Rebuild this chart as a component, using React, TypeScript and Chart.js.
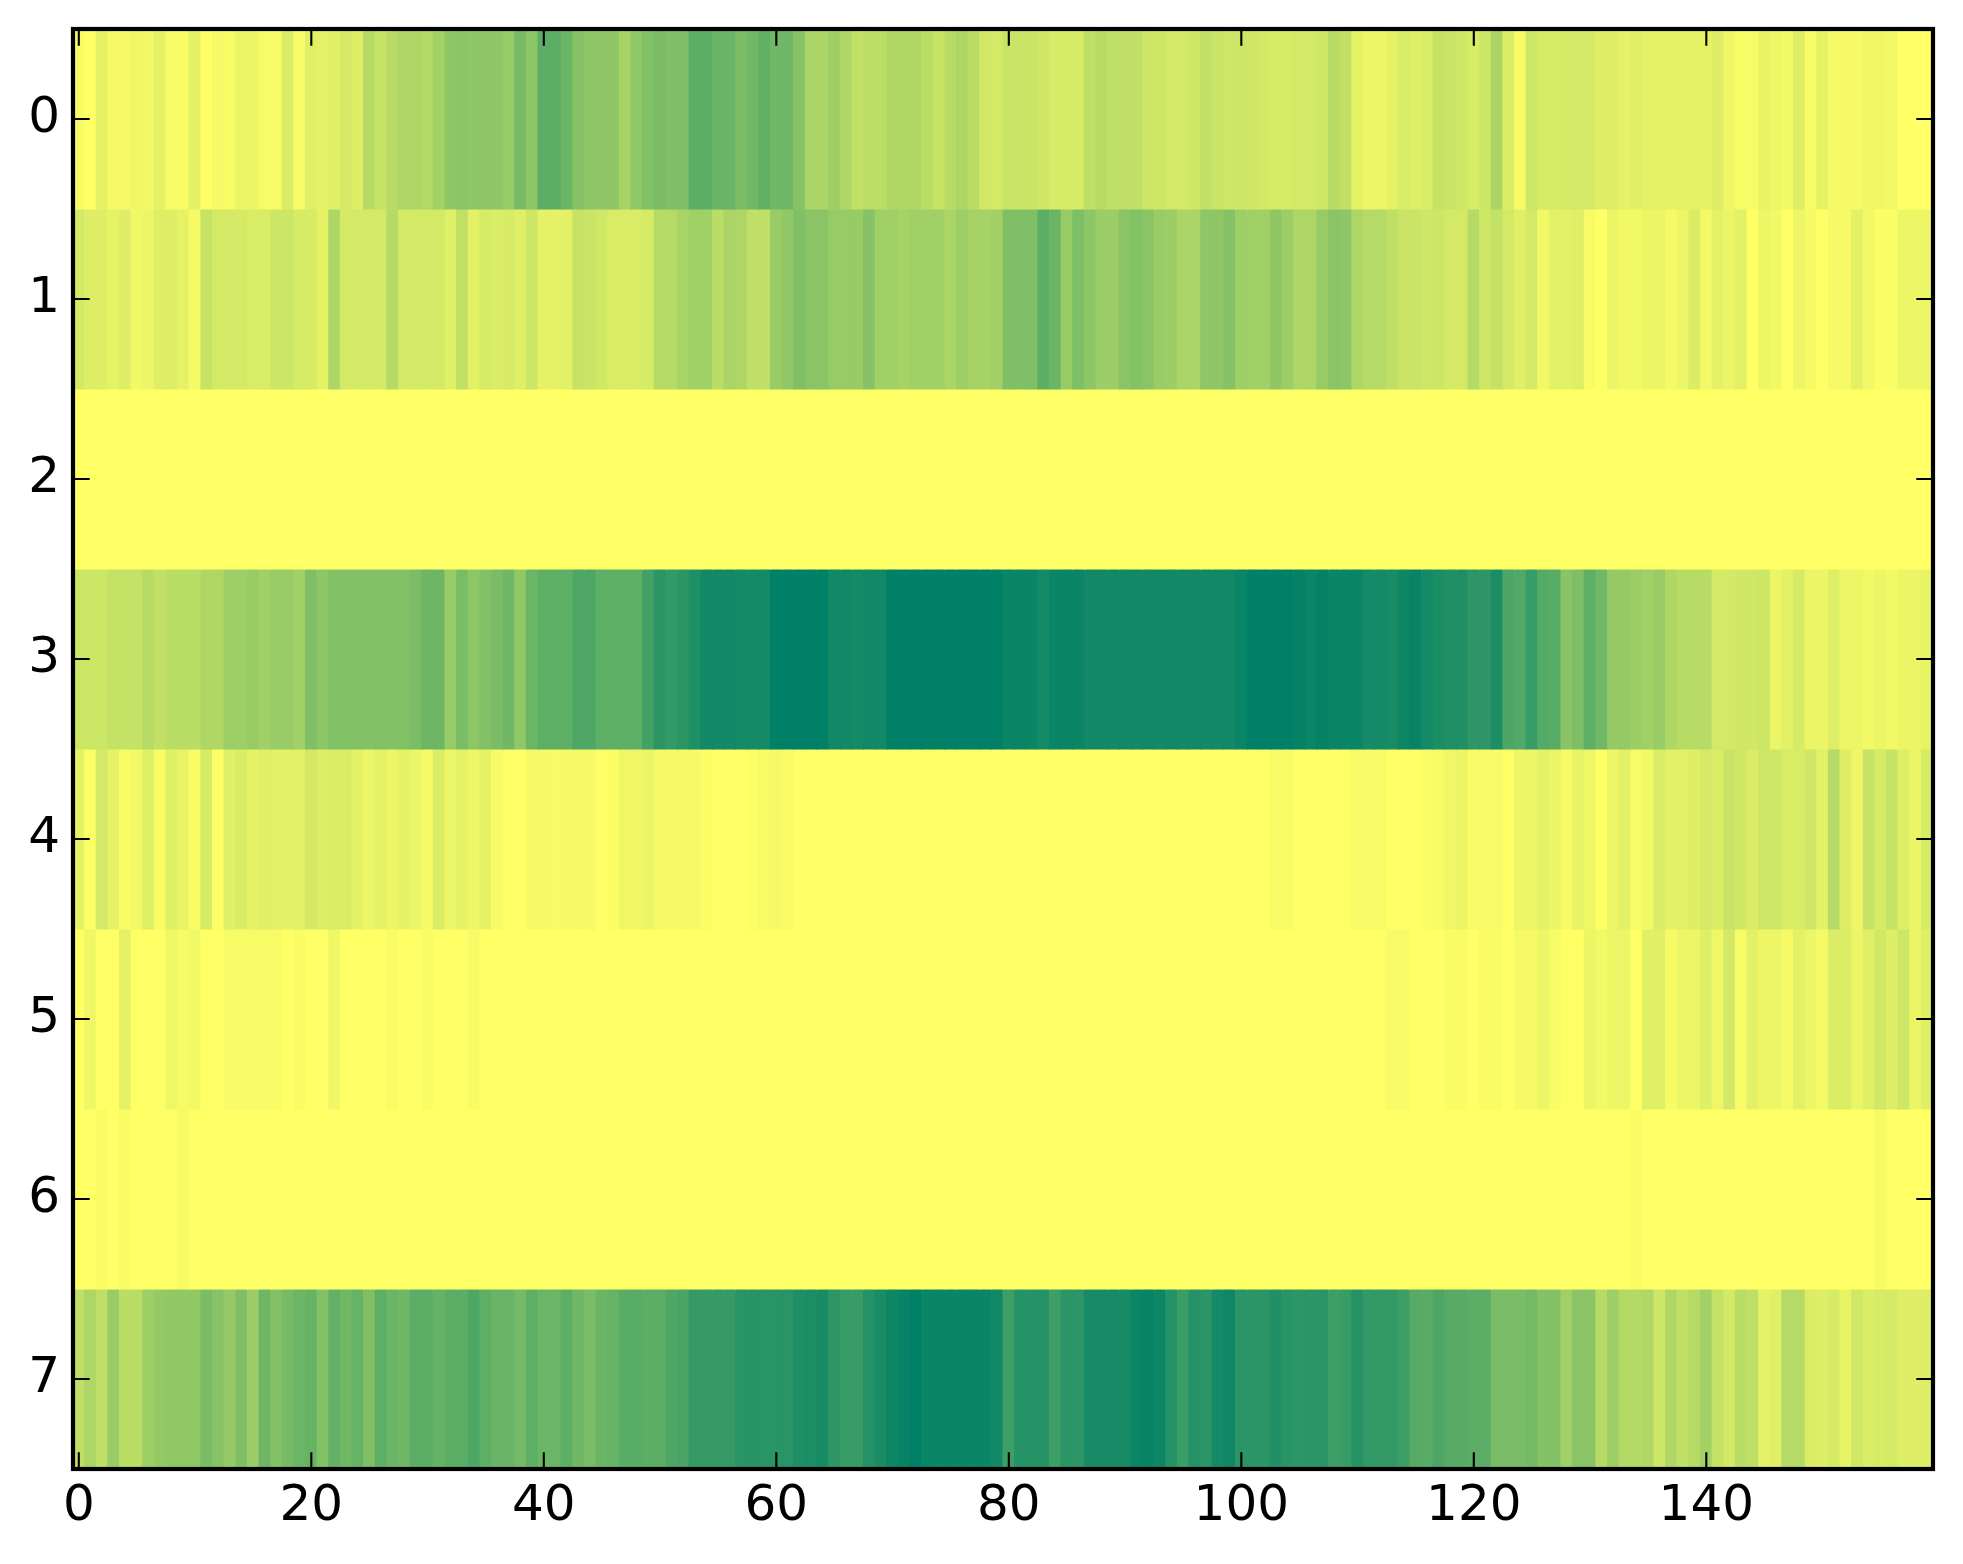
import React, { useEffect, useRef } from "react";
import { Chart, registerables } from "chart.js";

Chart.register(...registerables);

// Intensity (0-100) per column.
const row0 = [
  3,0,10,4,4,6,5,10,3,3, 11,0,4,3,8,8,3,3,14,3, 12,10,12,17,13,29,22,28,32,32, 30,36,44,46,44,44,44,41,53,45,
  64,64,58,47,44,44,44,35,43,49, 52,50,50,64,64,59,59,52,56,62, 56,56,47,33,33,38,31,24,26,27, 31,31,31,27,22,28,32,27,18,17,
  21,21,21,18,16,16,16,25,28,25, 25,25,20,19,17,17,19,24,21,19, 20,18,17,16,16,17,17,19,28,24, 10,7,7,10,15,13,15,22,21,19,
  16,20,33,14,3,19,16,16,17,17, 17,13,13,10,12,10,10,10,10,10, 10,13,6,3,3,9,7,5,13,3, 10,4,4,4,6,6,5,0,0,0,
];
const row1 = [
  17,13,13,10,13,5,7,13,13,10, 4,22,17,17,17,15,15,20,20,16, 16,10,32,17,17,17,17,29,17,17, 17,17,12,24,11,16,14,16,12,20,
  10,10,11,22,21,18,15,15,15,16, 29,29,34,37,37,27,33,32,25,25, 40,43,50,46,46,41,41,41,47,37, 37,35,37,37,37,33,38,35,35,37,
  50,50,50,64,58,41,51,45,39,39, 46,49,46,40,39,33,33,44,44,48, 38,37,37,44,39,32,32,41,46,45, 32,29,29,25,21,21,19,20,17,17,
  29,19,23,17,12,17,5,11,11,13, 3,0,8,5,5,8,8,4,7,14, 5,10,8,11,0,7,5,0,7,4, 0,4,4,11,5,1,1,7,7,7,
];
const row2 = [
  0,0,0,0,0,0,0,0,0,0, 0,0,0,0,0,0,0,0,0,0, 0,0,0,0,0,0,0,0,0,0, 0,0,0,0,0,0,0,0,0,0,
  0,0,0,0,0,0,0,0,0,0, 0,0,0,0,0,0,0,0,0,0, 0,0,0,0,0,0,0,0,0,0, 0,0,0,0,0,0,0,0,0,0,
  0,0,0,0,0,0,0,0,0,0, 0,0,0,0,0,0,0,0,0,0, 0,0,0,0,0,0,0,0,0,0, 0,0,0,0,0,0,0,0,0,0,
  0,0,0,0,0,0,0,0,0,0, 0,0,0,0,0,0,0,0,0,0, 0,0,0,0,0,0,0,0,0,0, 0,0,0,0,0,0,0,0,0,0,
];
const row3 = [
  20,20,20,23,23,23,28,24,27,27, 27,31,31,38,38,41,37,40,40,37, 50,45,49,49,49,49,49,49,49,52, 57,57,41,52,45,49,52,56,43,58,
  63,63,63,69,69,63,63,63,63,74, 83,80,83,88,93,93,93,92,92,92, 100,100,100,100,100,93,93,92,93,93, 100,100,100,100,100,100,100,100,100,100,
  96,96,96,92,96,96,96,93,93,93, 93,93,93,93,93,93,93,93,93,93, 96,100,100,100,100,98,96,98,96,96, 96,92,92,90,95,97,92,89,88,88,
  82,82,89,70,68,78,67,65,46,51, 63,56,42,42,39,37,40,31,28,28, 28,17,17,18,18,20,8,11,16,8, 8,13,7,7,5,7,5,8,8,9,
];
const row4 = [
  10,1,17,10,2,5,12,2,12,9, 2,16,1,12,15,10,12,11,11,11, 17,13,15,15,11,7,10,7,10,7, 4,14,7,10,7,10,3,0,0,4,
  4,3,4,4,4,0,1,6,6,8, 4,4,4,4,1,0,0,0,1,3, 4,2,0,0,0,0,0,0,0,0, 0,0,0,0,0,0,0,0,0,0,
  0,0,0,0,0,0,0,0,0,0, 0,0,0,0,0,0,0,0,0,0, 0,0,0,3,2,0,0,0,0,0, 3,3,3,0,0,0,1,3,6,8,
  3,3,3,0,7,7,10,8,4,9, 6,0,7,11,3,5,14,11,11,13, 17,14,21,18,14,19,19,15,15,19, 11,29,13,6,22,16,22,13,8,16,
];
const row5 = [
  0,6,0,0,10,0,0,0,6,3, 5,0,0,3,3,3,3,3,0,2, 0,0,6,0,0,0,0,2,0,0, 2,0,0,0,3,0,0,0,0,0,
  0,0,0,0,0,0,0,0,0,0, 0,0,0,0,0,0,0,0,0,0, 0,0,0,0,0,0,0,0,0,0, 0,0,0,0,0,0,0,0,0,0,
  0,0,0,0,0,0,0,0,0,0, 0,0,0,0,0,0,0,0,0,0, 0,0,0,0,0,0,0,0,0,0, 0,0,0,3,3,0,0,0,2,2,
  0,2,2,0,4,4,7,3,0,0, 8,5,7,7,0,12,12,3,7,7, 12,6,17,3,11,7,7,4,11,7, 4,14,14,8,12,18,13,19,8,12,
];
const row6 = [
  0,0,2,0,2,0,0,0,0,3, 0,0,0,0,0,0,0,0,0,0, 0,0,0,0,0,0,0,0,0,0, 0,0,0,0,0,0,0,0,0,0,
  0,0,0,0,0,0,0,0,0,0, 0,0,0,0,0,0,0,0,0,0, 0,0,0,0,0,0,0,0,0,0, 0,0,0,0,0,0,0,0,0,0,
  0,0,0,0,0,0,0,0,0,0, 0,0,0,0,0,0,0,0,0,0, 0,0,0,0,0,0,0,0,0,0, 0,0,0,0,0,0,0,0,0,0,
  0,0,0,0,0,0,0,0,0,0, 0,0,0,0,2,0,0,0,0,0, 0,0,0,0,0,0,0,0,0,0, 0,0,0,0,0,3,0,0,0,0,
];
const row7 = [
  25,32,25,40,27,27,38,42,43,43, 43,52,47,42,50,39,57,49,53,58, 60,49,61,56,60,50,63,58,56,64, 64,60,64,64,69,63,59,59,54,63,
  58,58,63,56,52,58,60,65,65,64, 64,69,71,79,79,79,79,84,84,84, 84,84,88,89,90,82,78,78,86,90, 95,97,100,96,96,96,96,96,96,93,
  76,85,85,85,76,83,82,91,91,91, 91,96,97,95,85,77,86,83,92,94, 83,83,83,87,84,82,83,84,76,78, 85,80,80,80,76,66,65,70,66,66,
  64,64,52,52,52,55,48,49,37,46, 46,28,38,30,30,31,20,31,25,29, 36,23,17,27,25,10,12,29,29,14, 13,16,9,18,14,16,17,13,13,13,
];
const rows = [row0, row1, row2, row3, row4, row5, row6, row7];
const xTickValues = [0, 20, 40, 60, 80, 100, 120, 140];
const yTickValues = [0, 1, 2, 3, 4, 5, 6, 7];

// matplotlib "summer_r"
const shade = (v: number) => {
  const t = v / 100;
  return `rgb(${Math.round(255 * (1 - t))},${Math.round(255 * (1 - t / 2))},102)`;
};

const framePlugin = {
  id: "frame",
  afterDraw(chart: any) {
    const { ctx, chartArea: a, scales } = chart;
    const len = 16.7;
    ctx.save();
    ctx.strokeStyle = "#000";
    ctx.lineWidth = 2.1;
    ctx.beginPath();
    for (const t of scales.x.ticks) {
      const p = scales.x.getPixelForValue(t.value);
      ctx.moveTo(p, a.top);
      ctx.lineTo(p, a.top + len);
      ctx.moveTo(p, a.bottom);
      ctx.lineTo(p, a.bottom - len);
    }
    for (const t of scales.y.ticks) {
      const p = scales.y.getPixelForValue(t.value);
      ctx.moveTo(a.left, p);
      ctx.lineTo(a.left + len, p);
      ctx.moveTo(a.right, p);
      ctx.lineTo(a.right - len, p);
    }
    ctx.stroke();
    ctx.lineWidth = 4.2;
    ctx.strokeRect(a.left, a.top, a.right - a.left, a.bottom - a.top);
    ctx.restore();
  },
};

export default function App() {
  const ref = useRef<HTMLCanvasElement | null>(null);
  useEffect(() => {
    const font = { family: "'DejaVu Sans'", size: 50 };
    const chart = new Chart(ref.current as HTMLCanvasElement, {
      type: "bar",
      data: {
        datasets: rows.map((values, r) => ({
          data: values.map((_, i) => ({ x: i, y: [r - 0.5, r + 0.5] })),
          backgroundColor: values.map(shade),
          borderWidth: 0,
          inflateAmount: 0.5,
          grouped: false,
          barPercentage: 1,
          categoryPercentage: 1,
        })),
      } as any,
      options: {
        animation: false,
        responsive: false,
        devicePixelRatio: 1,
        layout: { padding: { left: 0, top: 0, right: 30, bottom: 0 } },
        plugins: { legend: { display: false }, tooltip: { enabled: false } },
        scales: {
          x: {
            type: "linear",
            min: -0.5,
            max: 159.5,
            offset: false,
            grid: { display: false, drawTicks: false },
            border: { display: false },
            ticks: { font, color: "#000", padding: 8, maxRotation: 0, autoSkip: false },
            afterBuildTicks: (s: any) => {
              s.ticks = xTickValues.map((value) => ({ value }));
            },
            afterFit: (s: any) => {
              s.height = 95;
            },
          },
          y: {
            type: "linear",
            reverse: true,
            min: -0.5,
            max: 7.5,
            grid: { display: false, drawTicks: false },
            border: { display: false },
            ticks: { font, color: "#000", padding: 13, autoSkip: false },
            afterBuildTicks: (s: any) => {
              s.ticks = yTickValues.map((value) => ({ value }));
            },
            afterFit: (s: any) => {
              s.width = 73;
              s.paddingTop = 29;
            },
          },
        },
      } as any,
      plugins: [framePlugin],
    });
    return () => chart.destroy();
  }, []);
  return (
    <div style={{ position: "absolute", left: 0, top: 0, width: 1963, height: 1564, background: "#fff" }}>
      <canvas ref={ref} width={1963} height={1564} style={{ display: "block" }} />
    </div>
  );
}
